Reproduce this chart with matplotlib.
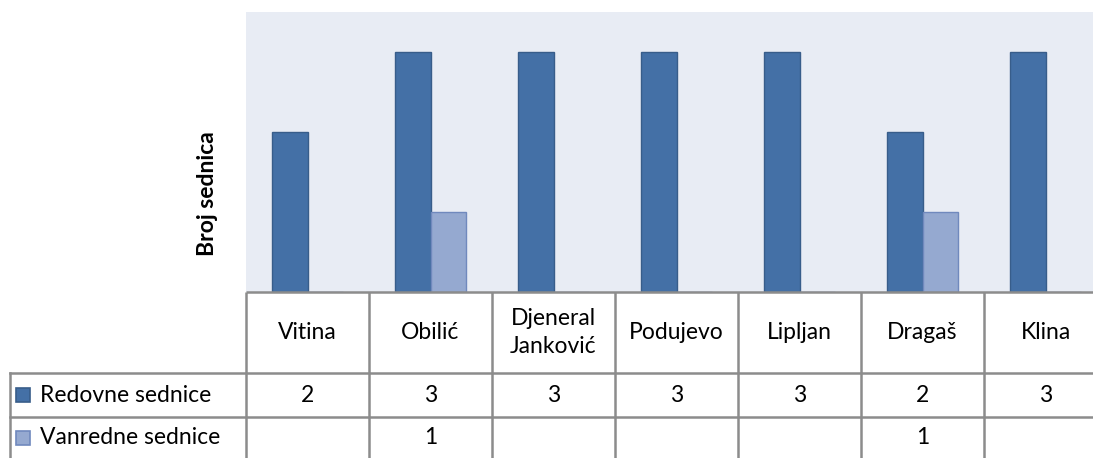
import matplotlib.pyplot as plt
import numpy as np
from matplotlib.transforms import blended_transform_factory

# podaci
opstine = ['Vitina', 'Obilić', 'Djeneral\nJanković', 'Podujevo', 'Lipljan', 'Dragaš', 'Klina']
redovne = [2, 3, 3, 3, 3, 2, 3]
vanredne = [None, 1, None, None, None, 1, None]
serije = ['Redovne sednice', 'Vanredne sednice']

boje = ['#4470A6', '#95A9D0']
ivice = ['#385D8A', '#7089BD']
linija = '#8C8C8C'

plt.rcParams['font.family'] = ['Lato', 'DejaVu Sans']
fs = 16.5

W, H = 1093, 458
fig = plt.figure(figsize=(W / 100, H / 100), dpi=100)

# plot area (u pikselima)
x0, top, bottom, cat_w = 246, 12, 292, 123
ax = fig.add_axes([x0 / W, 1 - bottom / H, cat_w * 7 / W, (bottom - top) / H])
ax.set_facecolor('#E8ECF4')
for s in ax.spines.values():
    s.set_visible(False)

x = np.arange(len(opstine))
bw = 0.285
ax.bar(x - bw / 2, redovne, bw, color=boje[0], edgecolor=ivice[0], linewidth=1)
ax.bar(x + bw / 2, [v if v is not None else 0 for v in vanredne], bw,
       color=boje[1], edgecolor=ivice[1], linewidth=1)
ax.set_xlim(-0.5, len(opstine) - 0.5)
ax.set_ylim(0, 3.5)
ax.set_xticks([])
ax.set_yticks([])

fy = lambda py: 1 - py / H
fig.text(208 / W, fy(194), 'Broj sednica', rotation=90, ha='center', va='center',
         fontsize=16.5, fontweight='bold')

# tabela podataka
tr = blended_transform_factory(ax.transData, fig.transFigure)
row1, row2 = 373, 417
kw = dict(color=linija, lw=1.8, clip_on=False, solid_capstyle='butt')

ax.plot([-0.5, len(opstine) - 0.5], [fy(bottom)] * 2, transform=tr, **kw)
for b in np.arange(-0.5, len(opstine), 1.0):
    ax.plot([b, b], [fy(bottom), 0], transform=tr, **kw)
for r in (row1, row2):
    fig.add_artist(plt.Line2D([10 / W, 1], [fy(r)] * 2, color=linija, lw=1.8))
fig.add_artist(plt.Line2D([10 / W, 10 / W], [fy(row1), 0], color=linija, lw=1.8))

for i, naziv in enumerate(opstine):
    ax.text(i, fy((bottom + row1) / 2), naziv, transform=tr, ha='center', va='center',
            fontsize=fs, linespacing=1.45)
    ax.text(i, fy((row1 + row2) / 2), str(redovne[i]), transform=tr, ha='center',
            va='center', fontsize=fs)
    if vanredne[i] is not None:
        ax.text(i, fy(row2 + 21), str(vanredne[i]), transform=tr, ha='center',
                va='center', fontsize=fs)

for j, (ime, y_red) in enumerate(zip(serije, [(row1 + row2) / 2, row2 + 21])):
    fig.add_artist(plt.Rectangle((16 / W, fy(y_red) - 7 / H), 14 / W, 14 / H,
                                 facecolor=boje[j], edgecolor=ivice[j], lw=1.2))
    fig.text(40 / W, fy(y_red), ime, ha='left', va='center', fontsize=fs)

fig.savefig('out.png', dpi=100, facecolor='white')
